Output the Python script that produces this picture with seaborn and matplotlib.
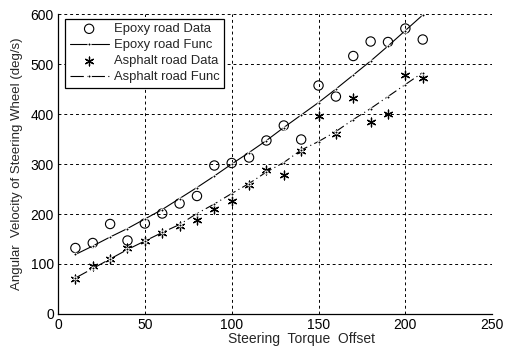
import numpy as np
import pandas as pd
import seaborn as sns
import matplotlib
matplotlib.use("Agg")
import matplotlib.pyplot as plt

torque = [10, 20, 30, 40, 50, 60, 70, 80, 90, 100, 110,
          120, 130, 140, 150, 160, 170, 180, 190, 200, 210]

epoxy_data = [132, 142, 180, 147, 181, 201, 221, 236, 297, 302, 313,
              347, 377, 349, 457, 435, 516, 545, 544, 571, 549]
epoxy_func = [119, 136, 154, 171, 190, 209, 231, 253, 276, 300, 323,
              347, 373, 398, 423, 450, 478, 506, 536, 567, 598]
asphalt_data = [70, 96, 110, 131, 145, 161, 177, 189, 211, 227, 259,
                288, 278, 326, 397, 361, 433, 385, 401, 479, 473]
asphalt_func = [72, 91, 110, 129, 146, 163, 179, 201, 220, 241, 261,
                284, 303, 328, 345, 365, 389, 411, 435, 459, 483]

sns.set_style("white")
plt.rcParams['font.family'] = ['Liberation Sans', 'DejaVu Sans']

fig = plt.figure(figsize=(5.09, 3.46), dpi=100)
ax = fig.add_axes([0.114, 0.0925, 0.853, 0.867])

sns.scatterplot(x=torque, y=epoxy_data, ax=ax, marker='o', s=45,
                facecolor='none', edgecolor='black', linewidth=0.8,
                label='Epoxy road Data', zorder=3)
sns.lineplot(x=torque, y=epoxy_func, ax=ax, color='black', linewidth=0.8,
             marker='o', markersize=2.2, label='Epoxy road Func', zorder=3)
sns.scatterplot(x=torque, y=asphalt_data, ax=ax, marker=(6, 2, 0), s=40,
                color='black', linewidth=0.9,
                label='Asphalt road Data', zorder=3)
sns.lineplot(x=torque, y=asphalt_func, ax=ax, color='black', linewidth=0.8,
             linestyle=(0, (12, 3, 1, 3)), marker='o', markersize=2.2,
             label='Asphalt road Func', zorder=3)

ax.set_xlim(0, 250)
ax.set_ylim(0, 600)
ax.set_xticks([0, 50, 100, 150, 200, 250])
ax.set_yticks([0, 100, 200, 300, 400, 500, 600])
ax.grid(True, color='black', linestyle=(0, (3, 3)), linewidth=0.7)
ax.set_axisbelow(True)
for s in ['top', 'right']:
    ax.spines[s].set_visible(False)
for s in ['left', 'bottom']:
    ax.spines[s].set_color('black')
    ax.spines[s].set_linewidth(0.9)
ax.tick_params(direction='in', length=3, labelsize=10, colors='black', pad=3)

ax.set_xlabel('Steering  Torque  Offset', fontsize=10)
ax.xaxis.set_label_coords(0.56, -0.06)
ax.set_ylabel('Angular  Velocity of Steering Wheel (deg/s)', fontsize=9.5)
ax.yaxis.set_label_coords(-0.08, 0.5)

leg = ax.legend(loc='upper left', bbox_to_anchor=(0.016, 0.985), fontsize=9.4,
                frameon=True, fancybox=False, edgecolor='black',
                borderpad=0.35, labelspacing=0.3, handlelength=3.0,
                handletextpad=0.4, borderaxespad=0)
leg.get_frame().set_linewidth(0.9)
leg.get_frame().set_alpha(1)

fig.savefig('out.png', dpi=100)
